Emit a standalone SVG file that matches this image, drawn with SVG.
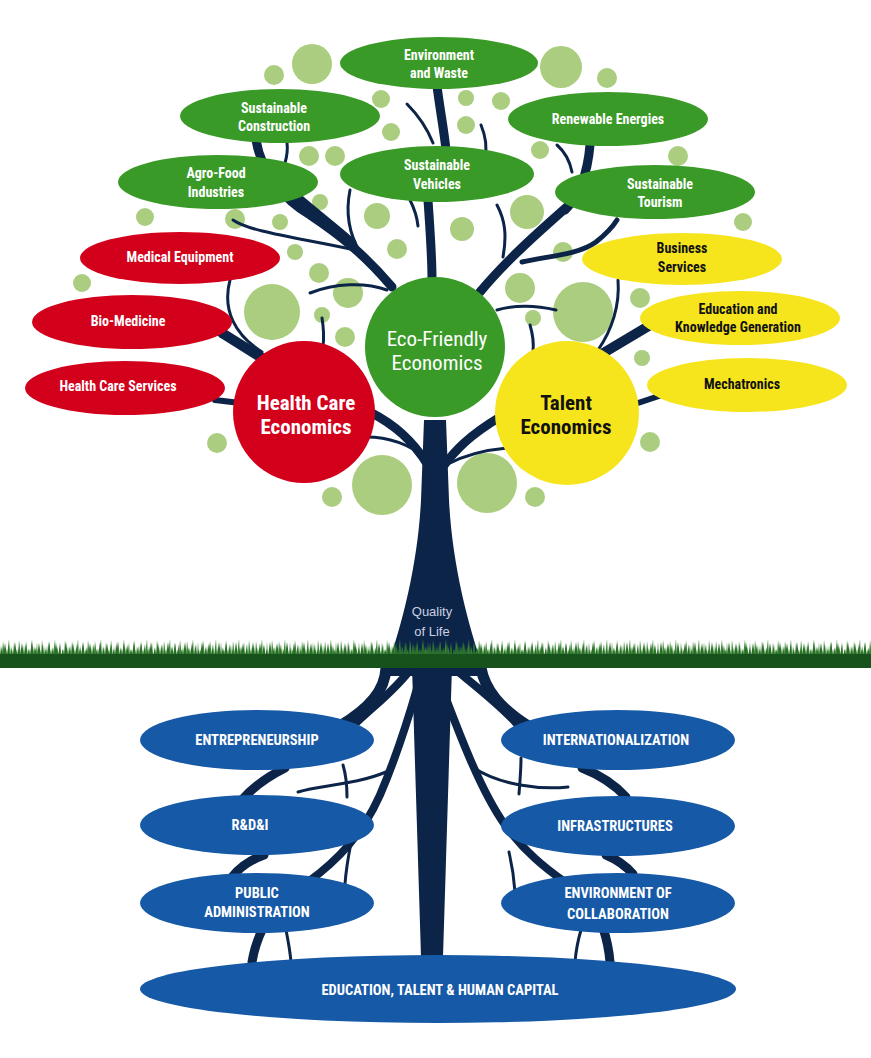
<svg xmlns="http://www.w3.org/2000/svg" width="871" height="1058" viewBox="0 0 871 1058">
<defs>
<style>
.dot{fill:#aacd7f}
.bt{fill:none;stroke:#0c2448;stroke-width:9;stroke-linecap:round}
.bn{fill:none;stroke:#0c2448;stroke-width:3;stroke-linecap:round}
.gr{fill:#3a9a28}
.rd{fill:#d3001c}
.yl{fill:#f6e51d}
.bl{fill:#1659a6}
text{font-family:"Liberation Sans Narrow","Roboto Condensed","DejaVu Sans Condensed","Liberation Sans",sans-serif;font-weight:bold;text-anchor:middle;font-size:14px}
.w{fill:#ffffff}
.k{fill:#111111}
.big{font-size:21px}
.eco{font-family:"Liberation Sans Narrow","Roboto Condensed","Liberation Sans",sans-serif;font-weight:normal;font-size:21px}
.up{font-size:14.5px}
.q{font-family:"Liberation Sans","Arial",sans-serif;font-weight:normal;font-size:13px;fill:#c9d1e3}
</style>
<pattern id="grass" x="0" y="638" width="23" height="18" patternUnits="userSpaceOnUse">
<polygon points="0,18 1,7 2,18 3,3 5,18 6,10 7,18 9,1 10,18 11,8 13,18 14,4 15,18 17,11 18,18 19,2 21,18 22,8 23,18" fill="#3c8a36"/>
</pattern>
<pattern id="grass2" x="7" y="641" width="17" height="15" patternUnits="userSpaceOnUse">
<polygon points="0,15 2,3 3,15 5,8 6,15 8,1 10,15 12,6 13,15 15,2 17,15" fill="#2a6f28"/>
</pattern>
</defs>
<rect width="871" height="1058" fill="#ffffff"/>

<g id="dots">
<circle class="dot" cx="312" cy="64" r="20"/>
<circle class="dot" cx="274" cy="75" r="10"/>
<circle class="dot" cx="561" cy="67" r="21"/>
<circle class="dot" cx="607" cy="78" r="10"/>
<circle class="dot" cx="381" cy="99" r="9"/>
<circle class="dot" cx="466" cy="98" r="8"/>
<circle class="dot" cx="501" cy="101" r="9"/>
<circle class="dot" cx="391" cy="132" r="9"/>
<circle class="dot" cx="466" cy="125" r="9"/>
<circle class="dot" cx="309" cy="156" r="10"/>
<circle class="dot" cx="335" cy="156" r="10"/>
<circle class="dot" cx="540" cy="150" r="9"/>
<circle class="dot" cx="678" cy="156" r="10"/>
<circle class="dot" cx="145" cy="217" r="9"/>
<circle class="dot" cx="235" cy="219" r="10"/>
<circle class="dot" cx="280" cy="222" r="8"/>
<circle class="dot" cx="320" cy="202" r="8"/>
<circle class="dot" cx="377" cy="216" r="13"/>
<circle class="dot" cx="462" cy="229" r="12"/>
<circle class="dot" cx="527" cy="212" r="17"/>
<circle class="dot" cx="743" cy="222" r="9"/>
<circle class="dot" cx="82" cy="283" r="9"/>
<circle class="dot" cx="295" cy="252" r="8"/>
<circle class="dot" cx="319" cy="273" r="10"/>
<circle class="dot" cx="272" cy="312" r="28"/>
<circle class="dot" cx="348" cy="293" r="15"/>
<circle class="dot" cx="322" cy="315" r="8"/>
<circle class="dot" cx="345" cy="337" r="10"/>
<circle class="dot" cx="397" cy="249" r="10"/>
<circle class="dot" cx="217" cy="443" r="10"/>
<circle class="dot" cx="382" cy="485" r="30"/>
<circle class="dot" cx="332" cy="497" r="10"/>
<circle class="dot" cx="563" cy="252" r="10"/>
<circle class="dot" cx="520" cy="288" r="15"/>
<circle class="dot" cx="583" cy="312" r="30"/>
<circle class="dot" cx="533" cy="318" r="8"/>
<circle class="dot" cx="640" cy="298" r="10"/>
<circle class="dot" cx="642" cy="358" r="8"/>
<circle class="dot" cx="650" cy="442" r="10"/>
<circle class="dot" cx="487" cy="483" r="30"/>
<circle class="dot" cx="535" cy="497" r="10"/>
</g>

<g id="connectors">
<path d="M386,670 C404,620 418,560 421,500 L424,420 L446,420 L449,500 C452,560 466,620 484,670 Z" fill="#0c2448"/>
<path d="M256,140 C262,175 285,200 310,215 C340,235 365,255 392,287" class="bt"/>
<path d="M298,198 C318,215 335,228 352,243" class="bt"/>
<path d="M437,86 C440,110 444,130 446,150" class="bt"/>
<path d="M428,200 C430,230 432,255 432,280" class="bt"/>
<path d="M590,145 C587,180 575,200 565,210" class="bt"/>
<path d="M480,292 C505,262 535,235 568,206" class="bt"/>
<path d="M522,262 C548,256 578,255 596,242 C606,234 612,228 617,220" class="bt" style="stroke-width:5"/>
<path d="M222,333 L262,358" class="bt" style="stroke-width:10"/>
<path d="M215,400 L240,403" class="bt" style="stroke-width:6"/>
<path d="M370,412 C395,425 412,440 428,465" class="bt"/>
<path d="M500,417 C470,435 455,450 442,468" class="bt"/>
<path d="M600,355 L652,324" class="bt" style="stroke-width:10"/>
<path d="M635,404 L662,395" class="bt" style="stroke-width:6"/>
<path d="M230,280 C222,310 235,335 262,352" class="bn"/>
<path d="M310,293 C335,283 365,282 387,290" class="bn"/>
<path d="M322,318 C324,330 324,338 323,347" class="bn"/>
<path d="M366,437 C390,437 410,445 426,458" class="bn"/>
<path d="M233,220 C250,232 300,238 355,250" class="bn"/>
<path d="M350,190 C346,210 348,232 360,252" class="bn"/>
<path d="M410,200 C414,208 417,216 418,226" class="bn"/>
<path d="M407,104 C418,115 427,128 433,143" class="bn"/>
<path d="M481,125 C486,137 487,148 485,158" class="bn"/>
<path d="M557,145 C565,152 570,162 572,172" class="bn"/>
<path d="M497,205 C505,220 507,235 503,257" class="bn"/>
<path d="M497,310 C515,305 535,305 556,310" class="bn"/>
<path d="M530,325 C533,335 534,342 533,352" class="bn"/>
<path d="M618,280 C620,305 612,330 598,350" class="bn"/>
<path d="M507,448 C485,450 465,455 448,464" class="bn"/>
<path d="M287,143 C288,150 287,156 285,163" class="bn"/>

<path d="M383,664 L485,664 L478,676 L390,676 Z" fill="#0c2448"/>
<path d="M412,666 L421,957 L443,957 L452,666 Z" fill="#0c2448"/>
<path d="M386,668 C385,690 370,708 340,726" class="bt" style="stroke-width:11"/>
<path d="M410,670 C395,690 375,705 355,724" class="bt" style="stroke-width:8"/>
<path d="M418,685 C408,720 395,760 380,795 C362,835 338,860 308,882" class="bt" style="stroke-width:8"/>
<path d="M285,768 C265,778 250,790 240,802" class="bt"/>
<path d="M264,855 C250,860 240,867 232,877" class="bt"/>
<path d="M263,928 C257,940 254,950 252,962" class="bt"/>
<path d="M481,668 C485,690 500,708 528,726" class="bt" style="stroke-width:11"/>
<path d="M456,670 C478,688 500,705 517,724" class="bt" style="stroke-width:8"/>
<path d="M442,688 C458,730 480,790 505,825 C525,852 545,868 565,882" class="bt" style="stroke-width:8"/>
<path d="M582,768 C600,775 615,785 626,797" class="bt"/>
<path d="M606,855 C618,860 625,865 633,874" class="bt"/>
<path d="M603,928 C607,940 609,950 610,962" class="bt"/>
<path d="M343,765 C346,775 347,785 347,797" class="bn"/>
<path d="M298,792 C320,785 355,785 386,772" class="bn"/>
<path d="M351,843 C348,858 346,870 345,884" class="bn"/>
<path d="M286,930 C288,940 290,950 291,962" class="bn"/>
<path d="M521,758 C521,770 520,780 519,794" class="bn"/>
<path d="M474,768 C500,785 540,790 568,787" class="bn"/>
<path d="M509,852 C512,865 514,878 515,892" class="bn"/>
<path d="M581,930 C578,940 576,950 575,962" class="bn"/>
</g>

<g id="ground">
<text class="q" x="432" y="616">Quality</text>
<text class="q" x="432" y="636">of Life</text>
<rect x="0" y="638" width="871" height="18" fill="url(#grass)"/>
<rect x="0" y="641" width="871" height="15" fill="url(#grass2)"/>
<rect x="0" y="654" width="871" height="14" fill="#17521d"/>
</g>

<g id="env-waste"><ellipse class="gr" cx="439" cy="63" rx="99" ry="26"/><text class="w" x="439" y="60">Environment</text><text class="w" x="439" y="78">and Waste</text></g>
<g id="sust-construction"><ellipse class="gr" cx="280" cy="116" rx="100" ry="27"/><text class="w" x="274" y="113">Sustainable</text><text class="w" x="274" y="131">Construction</text></g>
<g id="renewable"><ellipse class="gr" cx="608" cy="119" rx="100" ry="27"/><text class="w" x="608" y="124">Renewable Energies</text></g>
<g id="agro-food"><ellipse class="gr" cx="218" cy="182" rx="100" ry="27"/><text class="w" x="216" y="178">Agro-Food</text><text class="w" x="216" y="197">Industries</text></g>
<g id="sust-vehicles"><ellipse class="gr" cx="437" cy="174" rx="97" ry="28"/><text class="w" x="437" y="170">Sustainable</text><text class="w" x="437" y="189">Vehicles</text></g>
<g id="sust-tourism"><ellipse class="gr" cx="655" cy="192" rx="100" ry="27"/><text class="w" x="660" y="189">Sustainable</text><text class="w" x="660" y="207">Tourism</text></g>

<g id="medical-equipment"><ellipse class="rd" cx="180" cy="258" rx="100" ry="26"/><text class="w" x="180" y="262">Medical Equipment</text></g>
<g id="bio-medicine"><ellipse class="rd" cx="132" cy="322" rx="100" ry="27"/><text class="w" x="128" y="326">Bio-Medicine</text></g>
<g id="health-care-services"><ellipse class="rd" cx="125" cy="388" rx="100" ry="27"/><text class="w" x="118" y="391">Health Care Services</text></g>
<g id="health-care-economics"><circle class="rd" cx="304" cy="412" r="71"/><text class="w big" x="306" y="410">Health Care</text><text class="w big" x="306" y="434">Economics</text></g>

<g id="eco-friendly-economics"><circle class="gr" cx="435" cy="347" r="70"/><text class="w eco" x="437" y="346">Eco-Friendly</text><text class="w eco" x="437" y="370">Economics</text></g>

<g id="business-services"><ellipse class="yl" cx="682" cy="259" rx="100" ry="26"/><text class="k" x="682" y="253">Business</text><text class="k" x="682" y="272">Services</text></g>
<g id="education-knowledge"><ellipse class="yl" cx="740" cy="318" rx="100" ry="27"/><text class="k" x="738" y="314">Education and</text><text class="k" x="738" y="332">Knowledge Generation</text></g>
<g id="mechatronics"><ellipse class="yl" cx="747" cy="385" rx="100" ry="27"/><text class="k" x="742" y="389">Mechatronics</text></g>
<g id="talent-economics"><circle class="yl" cx="567" cy="413" r="72"/><text class="k big" x="566" y="410">Talent</text><text class="k big" x="566" y="434">Economics</text></g>

<g id="entrepreneurship"><ellipse class="bl" cx="257" cy="740" rx="117" ry="30"/><text class="w up" x="257" y="745">ENTREPRENEURSHIP</text></g>
<g id="internationalization"><ellipse class="bl" cx="618" cy="740" rx="117" ry="30"/><text class="w up" x="616" y="745">INTERNATIONALIZATION</text></g>
<g id="rdi"><ellipse class="bl" cx="257" cy="825" rx="117" ry="30"/><text class="w up" x="250" y="830">R&amp;D&amp;I</text></g>
<g id="infrastructures"><ellipse class="bl" cx="618" cy="826" rx="117" ry="30"/><text class="w up" x="615" y="831">INFRASTRUCTURES</text></g>
<g id="public-administration"><ellipse class="bl" cx="257" cy="903" rx="117" ry="30"/><text class="w up" x="257" y="898">PUBLIC</text><text class="w up" x="257" y="917">ADMINISTRATION</text></g>
<g id="environment-collaboration"><ellipse class="bl" cx="618" cy="903" rx="117" ry="30"/><text class="w up" x="618" y="898">ENVIRONMENT OF</text><text class="w up" x="618" y="919">COLLABORATION</text></g>
<g id="education-talent"><ellipse class="bl" cx="438" cy="989" rx="298" ry="34"/><text class="w up" x="440" y="995">EDUCATION, TALENT &amp; HUMAN CAPITAL</text></g>
</svg>
